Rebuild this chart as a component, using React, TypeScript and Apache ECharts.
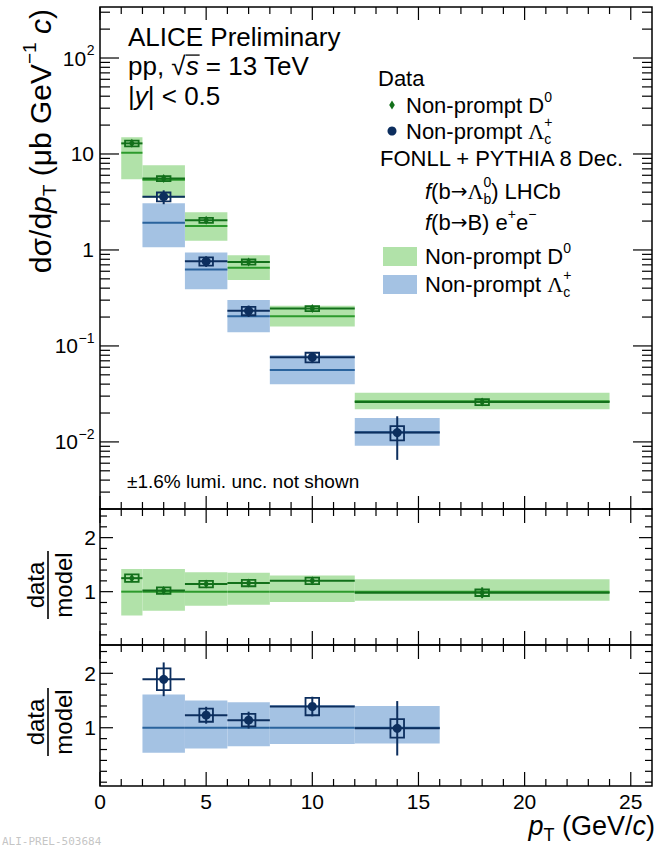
import React, { useEffect, useRef } from 'react';
import * as echarts from 'echarts';

const FONT = "'Liberation Sans', Arial, Helvetica, sans-serif";
const SERIF = "'Liberation Serif', 'DejaVu Serif', serif";
const ARROW_FONT = "'DejaVu Sans', sans-serif";

// ---------------- axes / ticks ----------------
const xRange = [0, 26];
const xMajorTicks = [0, 5, 10, 15, 20, 25];
const xTickLabels = ['0', '5', '10', '15', '20', '25'];
const xMinorTicks = [1, 2, 3, 4, 6, 7, 8, 9, 11, 12, 13, 14, 16, 17, 18, 19, 21, 22, 23, 24];

const topYRange = [0.002, 340];
const topYMajor = [0.01, 0.1, 1, 10, 100];
const topYLabelBase = ['10', '10', '1', '10', '10'];
const topYLabelExp = ['−2', '−1', '', '', '2'];
const topYMinorMantissa = [2, 3, 4, 5, 6, 7, 8, 9];
const topYMinorDecades = [0.001, 0.01, 0.1, 1, 10, 100];

const midYRange = [0.013, 2.53];
const botYRange = [-0.07, 2.52];
const ratioYMajor = [1, 2];
const ratioYLabels = ['1', '2'];
const ratioYMinor = [0, 0.2, 0.4, 0.6, 0.8, 1.2, 1.4, 1.6, 1.8, 2.2, 2.4];

// ---------------- data: non-prompt D0 ----------------
const d0BinLo = [1, 2, 4, 6, 8, 12];
const d0BinHi = [2, 4, 6, 8, 12, 24];
const d0Pt = [1.5, 3, 5, 7, 10, 18];
const d0Xsec = [12.9, 5.55, 2.04, 0.75, 0.245, 0.026];
const d0StatRel = [0.03, 0.03, 0.03, 0.03, 0.03, 0.09];
const d0SystRel = [0.07, 0.06, 0.06, 0.06, 0.06, 0.07];
const d0Model = [10.3, 5.4, 1.78, 0.654, 0.204, 0.0265];
const d0ModelLo = [5.45, 3.48, 1.25, 0.487, 0.159, 0.0219];
const d0ModelHi = [14.9, 7.65, 2.47, 0.88, 0.263, 0.0326];

const d0Ratio = [1.25, 1.02, 1.14, 1.16, 1.2, 0.98];
const d0RatioStat = [0.05, 0.04, 0.04, 0.04, 0.04, 0.1];
const d0RatioSyst = [0.07, 0.06, 0.06, 0.06, 0.06, 0.06];
const d0RatioBandLo = [0.56, 0.645, 0.74, 0.76, 0.81, 0.83];
const d0RatioBandHi = [1.42, 1.42, 1.36, 1.35, 1.3, 1.23];

// ---------------- data: non-prompt Lambda_c+ ----------------
const lcBinLo = [2, 4, 6, 8, 12];
const lcBinHi = [4, 6, 8, 12, 16];
const lcPt = [3, 5, 7, 10, 14];
const lcXsec = [3.59, 0.762, 0.232, 0.0762, 0.0125];
const lcStatRel = [0.165, 0.126, 0.136, 0.13, 0.48];
const lcSystRel = [0.105, 0.1, 0.1, 0.115, 0.17];
const lcModel = [1.92, 0.624, 0.204, 0.0562, 0.0126];
const lcModelLo = [1.07, 0.39, 0.139, 0.0399, 0.0091];
const lcModelHi = [3.07, 0.94, 0.301, 0.08, 0.0177];

const lcRatio = [1.89, 1.23, 1.14, 1.39, 0.99];
const lcRatioStat = [0.31, 0.155, 0.155, 0.18, 0.5];
const lcRatioSyst = [0.2, 0.12, 0.115, 0.16, 0.17];
const lcRatioBandLo = [0.54, 0.62, 0.66, 0.7, 0.71];
const lcRatioBandHi = [1.61, 1.5, 1.47, 1.42, 1.4];

// ---------------- styles ----------------
const GREEN_BAND = '#b1e2a9';
const GREEN_LINE = '#2c9a2c';
const GREEN_DATA = '#12701a';
const BLUE_BAND = '#a4c2e3';
const BLUE_LINE = '#2a639d';
const BLUE_DATA = '#0c2e5e';
const BOX_HW = 0.32;

const GRID_LEFT = 100;
const GRID_W = 552;
const gridTops = [7, 509, 645];
const gridHeights = [502, 136, 141];

// ---------------- text measuring ----------------
let measureCtx: CanvasRenderingContext2D | null = null;
function tw(text: string, size: number, italic: boolean, family: string) {
  if (!measureCtx && typeof document !== 'undefined') {
    measureCtx = document.createElement('canvas').getContext('2d');
  }
  if (!measureCtx) return text.length * size * 0.55;
  measureCtx.font = `${italic ? 'italic ' : ''}${size}px ${family}`;
  return measureCtx.measureText(text).width;
}

type Seg = { t: string; s?: number; dy?: number; i?: boolean; f?: string; stack?: boolean; over?: boolean };

function textStyle(text: string, x: number, y: number, size: number, family: string, italic: boolean, color: string, align = 'left') {
  return {
    text, x, y, fontSize: size, fontFamily: family, fontStyle: italic ? 'italic' : 'normal', fill: color,
    align, verticalAlign: 'middle', textAlign: align, textVerticalAlign: 'middle',
  };
}

function place(segs: Seg[], size: number, x: number, y: number, align = 'left', rotation = 0, color = '#000') {
  const children: any[] = [];
  let cx = 0;
  let stackW = 0;
  for (const sg of segs) {
    const fs = sg.s ?? size;
    const fam = sg.f ?? FONT;
    const w = tw(sg.t, fs, !!sg.i, fam);
    const dy = sg.dy ?? 0;
    children.push({ type: 'text', style: textStyle(sg.t, cx, dy, fs, fam, !!sg.i, color) });
    if (sg.over) {
      children.push({ type: 'line', shape: { x1: cx, y1: dy - fs * 0.42, x2: cx + w + 1, y2: dy - fs * 0.42 }, style: { stroke: color, lineWidth: 1.3 } });
    }
    if (sg.stack) { stackW = w; continue; }
    cx += Math.max(w, stackW);
    stackW = 0;
  }
  const off = align === 'right' ? -cx : align === 'center' ? -cx / 2 : 0;
  children.forEach((c) => {
    if (c.type === 'text') c.style.x += off;
    else { c.shape.x1 += off; c.shape.x2 += off; }
  });
  return { type: 'group', x, y, rotation, children };
}

function fraction(cx: number, cy: number) {
  return {
    type: 'group', x: cx, y: cy, rotation: Math.PI / 2,
    children: [
      { type: 'text', style: textStyle('data', 0, -13, 24, FONT, false, '#000', 'center') },
      { type: 'line', shape: { x1: -34, y1: 0, x2: 34, y2: 0 }, style: { stroke: '#000', lineWidth: 1.6 } },
      { type: 'text', style: textStyle('model', 0, 15, 24, FONT, false, '#000', 'center') },
    ],
  };
}

// ---------------- series builders ----------------
function bandSeries(idx: number, rows: number[][], fill: string, lineColor: string, z: number) {
  return {
    type: 'custom', xAxisIndex: idx, yAxisIndex: idx, data: rows, silent: true, z,
    encode: { x: [0, 1], y: [2, 3, 4] },
    renderItem: (params: any, api: any) => {
      const lo = api.value(0), hi = api.value(1), m = api.value(4);
      const a = api.coord([lo, api.value(3)]);
      const b = api.coord([hi, api.value(2)]);
      const m1 = api.coord([lo, m]);
      const m2 = api.coord([hi, m]);
      return {
        type: 'group',
        children: [
          { type: 'rect', shape: { x: a[0], y: a[1], width: b[0] - a[0], height: b[1] - a[1] }, style: { fill } },
          { type: 'line', shape: { x1: m1[0], y1: m1[1], x2: m2[0], y2: m2[1] }, style: { stroke: lineColor, lineWidth: 2 } },
        ],
      };
    },
  };
}

function dataSeries(idx: number, rows: number[][], color: string, marker: string, z: number) {
  return {
    type: 'custom', xAxisIndex: idx, yAxisIndex: idx, data: rows, silent: true, z,
    encode: { x: [0, 1, 2], y: [3, 4, 5, 6, 7] },
    renderItem: (params: any, api: any) => {
      const pt = api.value(0), v = api.value(3);
      const c = api.coord([pt, v]);
      const l = api.coord([api.value(1), v]);
      const r = api.coord([api.value(2), v]);
      const sLo = api.coord([pt, api.value(4)]);
      const sHi = api.coord([pt, api.value(5)]);
      const bA = api.coord([pt - BOX_HW, api.value(7)]);
      const bB = api.coord([pt + BOX_HW, api.value(6)]);
      const mk = marker === 'circle'
        ? { type: 'circle', shape: { cx: c[0], cy: c[1], r: 4.5 }, style: { fill: color } }
        : { type: 'polygon', shape: { points: [[c[0], c[1] - 4.5], [c[0] + 2.8, c[1]], [c[0], c[1] + 4.5], [c[0] - 2.8, c[1]]] }, style: { fill: color } };
      return {
        type: 'group',
        children: [
          { type: 'line', shape: { x1: l[0], y1: c[1], x2: r[0], y2: c[1] }, style: { stroke: color, lineWidth: 2 } },
          { type: 'line', shape: { x1: c[0], y1: sHi[1], x2: c[0], y2: sLo[1] }, style: { stroke: color, lineWidth: 2 } },
          { type: 'rect', shape: { x: bA[0], y: bA[1], width: bB[0] - bA[0], height: bB[1] - bA[1] }, style: { fill: 'none', stroke: color, lineWidth: 1.8 } },
          mk,
        ],
      };
    },
  };
}

type TickLen = { xMaj: number; xMin: number; yMaj: number; yMin: number };

function tickSeries(idx: number, yRef: number, xRef: number, yMajor: number[], yMinor: number[], len: TickLen) {
  const rows: number[][] = [];
  xMajorTicks.forEach((v) => rows.push([v, yRef, 0]));
  xMinorTicks.forEach((v) => rows.push([v, yRef, 1]));
  yMajor.forEach((v) => rows.push([xRef, v, 2]));
  yMinor.forEach((v) => rows.push([xRef, v, 3]));
  return {
    type: 'custom', xAxisIndex: idx, yAxisIndex: idx, data: rows, silent: true, z: 10,
    encode: { x: 0, y: 1 },
    renderItem: (params: any, api: any) => {
      const cs = params.coordSys;
      const kind = api.value(2);
      const st = { stroke: '#000', lineWidth: 1.2 };
      const p = api.coord([api.value(0), api.value(1)]);
      if (kind <= 1) {
        const L = kind === 0 ? len.xMaj : len.xMin;
        const bot = cs.y + cs.height;
        return {
          type: 'group',
          children: [
            { type: 'line', shape: { x1: p[0], y1: bot, x2: p[0], y2: bot - L }, style: st },
            { type: 'line', shape: { x1: p[0], y1: cs.y, x2: p[0], y2: cs.y + L }, style: st },
          ],
        };
      }
      const L = kind === 2 ? len.yMaj : len.yMin;
      const right = cs.x + cs.width;
      return {
        type: 'group',
        children: [
          { type: 'line', shape: { x1: cs.x, y1: p[1], x2: cs.x + L, y2: p[1] }, style: st },
          { type: 'line', shape: { x1: right, y1: p[1], x2: right - L, y2: p[1] }, style: st },
        ],
      };
    },
  };
}

function yLabelSeries(idx: number, xRef: number, values: number[], bases: string[], exps: string[], gap: number) {
  const rows = values.map((v) => [xRef, v]);
  return {
    type: 'custom', xAxisIndex: idx, yAxisIndex: idx, data: rows, silent: true, z: 10,
    encode: { x: 0, y: 1 },
    renderItem: (params: any, api: any) => {
      const cs = params.coordSys;
      const i = params.dataIndex;
      const p = api.coord([api.value(0), api.value(1)]);
      const exp = exps[i] || '';
      const expW = exp ? tw(exp, 14, false, FONT) : 0;
      const right = cs.x - gap;
      const children: any[] = [
        { type: 'text', style: textStyle(bases[i], right - expW, p[1], 21, FONT, false, '#000', 'right') },
      ];
      if (exp) children.push({ type: 'text', style: textStyle(exp, right - expW + 0.5, p[1] - 8, 14, FONT, false, '#000', 'left') });
      return { type: 'group', children };
    },
  };
}

function xLabelSeries(idx: number, yRef: number) {
  const rows = xMajorTicks.map((v) => [v, yRef]);
  return {
    type: 'custom', xAxisIndex: idx, yAxisIndex: idx, data: rows, silent: true, z: 10,
    encode: { x: 0, y: 1 },
    renderItem: (params: any, api: any) => {
      const cs = params.coordSys;
      const p = api.coord([api.value(0), api.value(1)]);
      return { type: 'text', style: textStyle(xTickLabels[params.dataIndex], p[0], cs.y + cs.height + 15, 21, FONT, false, '#000', 'center') };
    },
  };
}

function buildOption() {
  const topYMinor: number[] = [];
  topYMinorDecades.forEach((d) => topYMinorMantissa.forEach((m) => {
    const v = +(m * d).toPrecision(3);
    if (v >= topYRange[0] && v <= topYRange[1]) topYMinor.push(v);
  }));
  const midMinor = ratioYMinor.filter((v) => v >= midYRange[0] && v <= midYRange[1]);
  const botMinor = ratioYMinor.filter((v) => v >= botYRange[0] && v <= botYRange[1]);

  // tables built from the arrays
  const d0BandTop = d0BinLo.map((lo, i) => [lo, d0BinHi[i], d0ModelLo[i], d0ModelHi[i], d0Model[i]]);
  const lcBandTop = lcBinLo.map((lo, i) => [lo, lcBinHi[i], lcModelLo[i], lcModelHi[i], lcModel[i]]);
  const d0DataTop = d0Pt.map((pt, i) => {
    const v = d0Xsec[i];
    return [pt, d0BinLo[i], d0BinHi[i], v, v * (1 - d0StatRel[i]), v * (1 + d0StatRel[i]), v * (1 - d0SystRel[i]), v * (1 + d0SystRel[i])];
  });
  const lcDataTop = lcPt.map((pt, i) => {
    const v = lcXsec[i];
    return [pt, lcBinLo[i], lcBinHi[i], v, v * (1 - lcStatRel[i]), v * (1 + lcStatRel[i]), v * (1 - lcSystRel[i]), v * (1 + lcSystRel[i])];
  });
  const d0BandRatio = d0BinLo.map((lo, i) => [lo, d0BinHi[i], d0RatioBandLo[i], d0RatioBandHi[i], 1]);
  const lcBandRatio = lcBinLo.map((lo, i) => [lo, lcBinHi[i], lcRatioBandLo[i], lcRatioBandHi[i], 1]);
  const d0DataRatio = d0Pt.map((pt, i) => {
    const v = d0Ratio[i];
    return [pt, d0BinLo[i], d0BinHi[i], v, v - d0RatioStat[i], v + d0RatioStat[i], v - d0RatioSyst[i], v + d0RatioSyst[i]];
  });
  const lcDataRatio = lcPt.map((pt, i) => {
    const v = lcRatio[i];
    return [pt, lcBinLo[i], lcBinHi[i], v, v - lcRatioStat[i], v + lcRatioStat[i], v - lcRatioSyst[i], v + lcRatioSyst[i]];
  });

  const hiddenAxis = { axisLine: { show: false }, axisTick: { show: false }, axisLabel: { show: false }, splitLine: { show: false } };
  const topLen: TickLen = { xMaj: 13, xMin: 7, yMaj: 19, yMin: 10 };
  const ratioLen: TickLen = { xMaj: 14, xMin: 7, yMaj: 13, yMin: 7 };

  const L = 22;
  const SUB = 14;
  const lcSegs = (pre: string): Seg[] => [{ t: pre }, { t: 'Λ', f: SERIF }, { t: 'c', s: SUB, dy: 8, stack: true }, { t: '+', s: SUB, dy: -9 }];

  const graphicEls: any[] = [
    // top-left labels
    place([{ t: 'ALICE Preliminary' }], 26, 128, 37),
    place([{ t: 'pp, ' }, { t: '√' }, { t: 's', i: true, over: true }, { t: ' = 13 TeV' }], 26, 128, 66),
    place([{ t: '|' }, { t: 'y', i: true }, { t: '| < 0.5' }], 26, 128, 96),
    // legend
    place([{ t: 'Data' }], L, 378, 78),
    { type: 'polygon', shape: { points: [[392, 100.5], [394.8, 105], [392, 109.5], [389.2, 105]] }, style: { fill: GREEN_DATA } },
    place([{ t: 'Non-prompt D' }, { t: '0', s: SUB, dy: -8 }], L, 406, 105),
    { type: 'circle', shape: { cx: 392, cy: 131, r: 4.5 }, style: { fill: BLUE_DATA } },
    place(lcSegs('Non-prompt '), L, 406, 131),
    place([{ t: 'FONLL + PYTHIA 8 Dec.' }], L, 380, 158),
    place([{ t: 'f', i: true }, { t: '(b' }, { t: '→', f: ARROW_FONT, s: 20 }, { t: 'Λ', f: SERIF }, { t: 'b', s: SUB, dy: 8, stack: true }, { t: '0', s: SUB, dy: -9 }, { t: ') LHCb' }], L, 425, 191),
    place([{ t: 'f', i: true }, { t: '(b' }, { t: '→', f: ARROW_FONT, s: 20 }, { t: 'B) e' }, { t: '+', s: SUB, dy: -8 }, { t: 'e' }, { t: '−', s: SUB, dy: -8 }], L, 425, 222),
    { type: 'rect', shape: { x: 383, y: 247, width: 34, height: 19 }, style: { fill: GREEN_BAND } },
    place([{ t: 'Non-prompt D' }, { t: '0', s: SUB, dy: -8 }], L, 425, 256),
    { type: 'rect', shape: { x: 383, y: 275, width: 34, height: 19 }, style: { fill: BLUE_BAND } },
    place(lcSegs('Non-prompt '), L, 425, 284),
    // lumi note
    place([{ t: '±1.6% lumi. unc. not shown' }], 19, 127, 481),
    // axis titles
    place([{ t: 'dσ/d' }, { t: 'p', i: true }, { t: 'T', s: 19, dy: 9 }, { t: ' (μb GeV' }, { t: '−1', s: 19, dy: -11 }, { t: ' ' }, { t: 'c', i: true }, { t: ')' }], 30, 40, 9, 'right', Math.PI / 2),
    fraction(48, 585),
    fraction(48, 722),
    place([{ t: 'p', i: true }, { t: 'T', s: 18, dy: 9 }, { t: ' (GeV/' }, { t: 'c', i: true }, { t: ')' }], 27, 655, 826, 'right'),
    // preliminary id
    { type: 'text', style: { ...textStyle('ALI-PREL-503684', 2, 841, 11, "'DejaVu Sans Mono', monospace", false, '#b5b5b5'), opacity: 0.8 } },
  ];

  return {
    animation: false,
    backgroundColor: '#fff',
    grid: gridTops.map((top, i) => ({
      left: GRID_LEFT, top, width: GRID_W, height: gridHeights[i],
      show: true, borderColor: '#000', borderWidth: 1.5, backgroundColor: 'rgba(0,0,0,0)',
    })),
    xAxis: [0, 1, 2].map((i) => ({ type: 'value', gridIndex: i, min: xRange[0], max: xRange[1], ...hiddenAxis })),
    yAxis: [
      { type: 'log', logBase: 10, gridIndex: 0, min: topYRange[0], max: topYRange[1], ...hiddenAxis },
      { type: 'value', gridIndex: 1, min: midYRange[0], max: midYRange[1], ...hiddenAxis },
      { type: 'value', gridIndex: 2, min: botYRange[0], max: botYRange[1], ...hiddenAxis },
    ],
    series: [
      bandSeries(0, d0BandTop, GREEN_BAND, GREEN_LINE, 1),
      bandSeries(0, lcBandTop, BLUE_BAND, BLUE_LINE, 2),
      dataSeries(0, d0DataTop, GREEN_DATA, 'diamond', 3),
      dataSeries(0, lcDataTop, BLUE_DATA, 'circle', 4),
      bandSeries(1, d0BandRatio, GREEN_BAND, GREEN_LINE, 1),
      dataSeries(1, d0DataRatio, GREEN_DATA, 'diamond', 3),
      bandSeries(2, lcBandRatio, BLUE_BAND, BLUE_LINE, 2),
      dataSeries(2, lcDataRatio, BLUE_DATA, 'circle', 4),
      tickSeries(0, 1, 1, topYMajor, topYMinor, topLen),
      tickSeries(1, 1, 1, ratioYMajor, midMinor, ratioLen),
      tickSeries(2, 1, 1, ratioYMajor, botMinor, ratioLen),
      yLabelSeries(0, 1, topYMajor, topYLabelBase, topYLabelExp, 6),
      yLabelSeries(1, 1, ratioYMajor, ratioYLabels, ['', ''], 4),
      yLabelSeries(2, 1, ratioYMajor, ratioYLabels, ['', ''], 4),
      xLabelSeries(2, 1),
    ],
    graphic: { elements: graphicEls },
  };
}

export default function App() {
  const ref = useRef<HTMLDivElement>(null);
  useEffect(() => {
    if (!ref.current) return;
    const chart = echarts.init(ref.current, undefined, { renderer: 'svg' });
    chart.setOption(buildOption() as any);
    return () => chart.dispose();
  }, []);
  return (
    <div
      ref={ref}
      style={{ position: 'fixed', left: 0, top: 0, width: 668, height: 848, background: '#fff' }}
    />
  );
}
